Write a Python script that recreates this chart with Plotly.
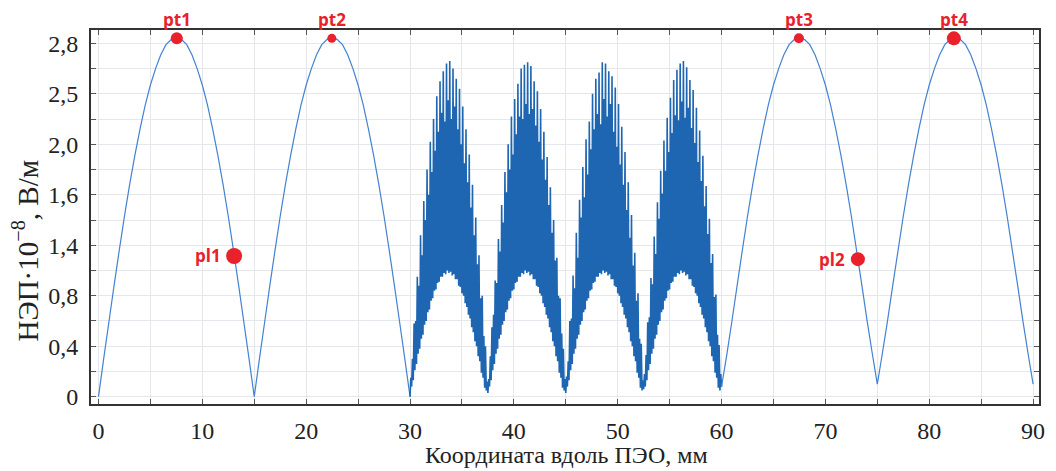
import numpy as np
import plotly.graph_objects as go

# ---------------- data ----------------
# smooth arches, sampled every 0.5 mm
arch_0_15 = [0.00, 0.30, 0.59, 0.88, 1.16, 1.43, 1.68, 1.91, 2.12, 2.31, 2.47, 2.60, 2.71, 2.79, 2.83, 2.85,
             2.83, 2.79, 2.71, 2.60, 2.47, 2.31, 2.12, 1.91, 1.68, 1.43, 1.16, 0.88, 0.59, 0.30, 0.00]
arch_15_30 = [0.00, 0.30, 0.59, 0.88, 1.16, 1.43, 1.68, 1.91, 2.12, 2.31, 2.47, 2.60, 2.71, 2.79, 2.83, 2.85,
              2.83, 2.79, 2.71, 2.60, 2.47, 2.31, 2.12, 1.91, 1.68, 1.43, 1.16, 0.88, 0.59, 0.30, 0.00]
arch_60_75 = [0.08, 0.33, 0.60, 0.88, 1.16, 1.43, 1.68, 1.91, 2.12, 2.31, 2.47, 2.60, 2.71, 2.79, 2.83, 2.85,
              2.83, 2.79, 2.71, 2.60, 2.47, 2.31, 2.12, 1.91, 1.68, 1.43, 1.16, 0.89, 0.61, 0.35, 0.10]
arch_75_90 = [0.10, 0.35, 0.61, 0.89, 1.16, 1.43, 1.68, 1.91, 2.12, 2.31, 2.47, 2.60, 2.71, 2.79, 2.83, 2.85,
              2.83, 2.79, 2.71, 2.60, 2.47, 2.31, 2.12, 1.91, 1.68, 1.43, 1.16, 0.89, 0.61, 0.35, 0.10]

# oscillating region 30..60 mm: four sub-arches, 48 oscillations each
mid_starts = [30.0, 37.5, 45.0, 52.5]
mid_minima = [0.00, 0.03, 0.03, 0.06, 0.08]   # at 30, 37.5, 45, 52.5, 60 mm
peaks_a = [0.15, 0.30, 0.58, 0.60, 0.95, 0.88, 1.28, 1.12, 1.55, 1.40, 1.80, 1.60, 2.02, 1.78, 2.20, 1.95,
           2.38, 2.10, 2.50, 2.25, 2.58, 2.18, 2.64, 2.35, 2.66, 2.20, 2.60, 2.30, 2.52, 2.12, 2.44, 2.00,
           2.30, 1.85, 2.12, 1.70, 1.92, 1.50, 1.68, 1.28, 1.42, 1.05, 1.12, 0.78, 0.80, 0.48, 0.40, 0.12]
peaks_b = [0.14, 0.32, 0.55, 0.65, 0.92, 0.90, 1.25, 1.15, 1.52, 1.38, 1.78, 1.62, 2.00, 1.80, 2.22, 1.92,
           2.36, 2.08, 2.48, 2.22, 2.60, 2.20, 2.63, 2.32, 2.65, 2.24, 2.62, 2.28, 2.50, 2.15, 2.42, 2.02,
           2.28, 1.88, 2.10, 1.72, 1.90, 1.52, 1.66, 1.30, 1.40, 1.08, 1.10, 0.80, 0.78, 0.50, 0.38, 0.14]
peaks_c = [0.16, 0.28, 0.60, 0.62, 0.96, 0.86, 1.30, 1.10, 1.56, 1.42, 1.82, 1.58, 2.04, 1.76, 2.18, 1.96,
           2.40, 2.12, 2.52, 2.24, 2.57, 2.16, 2.65, 2.36, 2.64, 2.22, 2.58, 2.32, 2.54, 2.10, 2.45, 1.98,
           2.32, 1.84, 2.14, 1.68, 1.94, 1.48, 1.70, 1.26, 1.44, 1.04, 1.14, 0.76, 0.82, 0.46, 0.42, 0.13]
peaks_d = [0.18, 0.33, 0.59, 0.63, 0.94, 0.89, 1.27, 1.13, 1.54, 1.41, 1.79, 1.61, 2.03, 1.79, 2.21, 1.94,
           2.37, 2.09, 2.51, 2.23, 2.59, 2.19, 2.64, 2.34, 2.66, 2.21, 2.61, 2.29, 2.51, 2.13, 2.43, 2.01,
           2.29, 1.86, 2.11, 1.71, 1.91, 1.51, 1.67, 1.29, 1.41, 1.06, 1.13, 0.79, 0.81, 0.49, 0.41, 0.18]
troughs = [0.08, 0.13, 0.21, 0.26, 0.34, 0.38, 0.46, 0.49, 0.57, 0.60, 0.67, 0.69, 0.76, 0.78, 0.84, 0.85,
           0.90, 0.91, 0.95, 0.95, 0.98, 0.97, 1.00, 0.98, 0.99, 0.96, 0.97, 0.93, 0.93, 0.88, 0.87, 0.82,
           0.80, 0.74, 0.71, 0.65, 0.62, 0.55, 0.51, 0.44, 0.40, 0.32, 0.28, 0.19, 0.15, 0.07, 0.05]

# labelled points
pt_names = ["pt1", "pt2", "pt3", "pt4"]
pt_x = [7.54, 22.47, 67.45, 82.37]
pt_y = [2.84, 2.84, 2.84, 2.84]
pt_size = [12, 9, 10, 14]
pl_names = ["pl1", "pl2"]
pl_x = [13.06, 73.13]
pl_y = [1.115, 1.09]
pl_size = [16, 14]

x_ticks = [0, 10, 20, 30, 40, 50, 60, 70, 80, 90]
y_tickvals = [0, 0.4, 0.8, 1.2, 1.6, 2.0, 2.4, 2.8]
y_ticktext = ["0", "0,4", "0,8", "1,4", "1,6", "2,0", "2,5", "2,8"]

# ---------------- build series ----------------
step = 0.5
x_left = list(np.arange(0, 15 + 1e-9, step)) + list(np.arange(15, 30 + 1e-9, step))
y_left = arch_0_15 + arch_15_30
x_right = list(np.arange(60, 75 + 1e-9, step)) + list(np.arange(75, 90 + 1e-9, step))
y_right = arch_60_75 + arch_75_90

h = 7.5 / 48
x_mid = [mid_starts[0]]
y_mid = [mid_minima[0]]
for a, pk in enumerate([peaks_a, peaks_b, peaks_c, peaks_d]):
    x0 = mid_starts[a]
    for k in range(48):
        x_mid.append(x0 + (k + 0.5) * h)
        y_mid.append(pk[k])
        x_mid.append(x0 + (k + 1) * h)
        y_mid.append(troughs[k] if k < 47 else mid_minima[a + 1])

thin = "#4382d2"
dense = "#1f66b2"
red = "#e8212b"
serif = "Liberation Serif, Times New Roman, DejaVu Serif, serif"

fig = go.Figure()
fig.add_trace(go.Scatter(x=x_left, y=y_left, mode="lines",
                         line=dict(color=thin, width=1.2, simplify=False), showlegend=False))
fig.add_trace(go.Scatter(x=x_mid, y=y_mid, mode="lines",
                         line=dict(color=dense, width=1.6, simplify=False), showlegend=False))
fig.add_trace(go.Scatter(x=x_right, y=y_right, mode="lines",
                         line=dict(color=thin, width=1.2, simplify=False), showlegend=False))
fig.add_trace(go.Scatter(x=pt_x, y=pt_y, mode="markers",
                         marker=dict(color=red, size=pt_size, opacity=1, line=dict(width=0)),
                         showlegend=False, cliponaxis=False))
fig.add_trace(go.Scatter(x=pl_x, y=pl_y, mode="markers",
                         marker=dict(color=red, size=pl_size, opacity=1, line=dict(width=0)),
                         showlegend=False, cliponaxis=False))

lab_font = dict(family="Open Sans", size=17, color=red, weight="bold")
for n, x, y in zip(pt_names, pt_x, pt_y):
    fig.add_annotation(x=x, y=y, text=n, showarrow=False, yshift=19,
                       font=lab_font, xanchor="center", yanchor="middle")
for n, x, y in zip(pl_names, pl_x, pl_y):
    fig.add_annotation(x=x, y=y, text=n, showarrow=False, xshift=-26,
                       font=lab_font, xanchor="center", yanchor="middle")

axis_font = dict(family=serif, size=24, color="#222")
grid = "#e4e8ec"

fig.update_xaxes(range=[-0.72, 90.57], tickmode="array", tickvals=x_ticks,
                 ticks="inside", ticklen=5, tickcolor="#555", tickwidth=1,
                 showline=True, linecolor="#333", linewidth=2, mirror="allticks",
                 showgrid=True, gridcolor=grid, gridwidth=1, zeroline=False,
                 minor=dict(tickmode="linear", tick0=0, dtick=5, ticks="inside", ticklen=5,
                            tickcolor="#555", showgrid=True, gridcolor=grid, gridwidth=1),
                 tickfont=axis_font, ticklabelstandoff=4)
fig.update_yaxes(range=[-0.058, 2.906], tickmode="array", tickvals=y_tickvals, ticktext=y_ticktext,
                 ticks="inside", ticklen=5, tickcolor="#555", tickwidth=1,
                 showline=True, linecolor="#333", linewidth=2, mirror="allticks",
                 showgrid=True, gridcolor=grid, gridwidth=1, zeroline=False,
                 minor=dict(tickmode="linear", tick0=0, dtick=0.2, ticks="inside", ticklen=5,
                            tickcolor="#555", showgrid=True, gridcolor=grid, gridwidth=1),
                 tickfont=axis_font, ticklabelstandoff=6)

# plot area in the page: x 91..1045, y 30..404 (the page body adds an 8 px offset)
fig.add_annotation(xref="paper", yref="paper", x=(570 - 91) / 954, y=(404 - 455) / 374,
                   text="Координата вдоль ПЭО, мм", showarrow=False,
                   font=dict(family=serif, size=24, color="#222"),
                   xanchor="center", yanchor="middle")
fig.add_annotation(xref="paper", yref="paper", x=(25 - 91) / 954, y=(404 - 250) / 374,
                   text="НЭП·10<sup>−8</sup>, В/м", showarrow=False, textangle=-90,
                   font=dict(family=serif, size=29, color="#222"),
                   xanchor="center", yanchor="middle")

fig.update_layout(width=1048, height=463, margin=dict(l=83, r=11, t=22, b=67),
                  paper_bgcolor="white", plot_bgcolor="white")

fig.write_html("out.html")
